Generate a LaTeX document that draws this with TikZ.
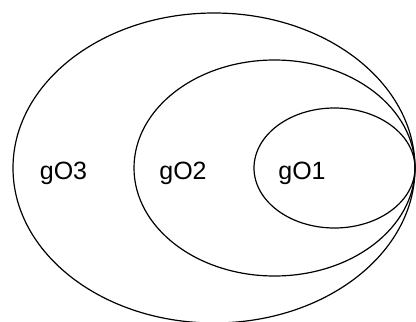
\documentclass[tikz,border=0pt]{standalone}
\usepackage{fontspec}
\setmainfont{Liberation Sans}
\usepackage{tikz}
\tikzset{set/.style={draw=black,line width=1.2pt},
         setlabel/.style={font=\fontsize{25}{29}\selectfont,inner sep=0pt}}

\begin{document}
\begin{tikzpicture}[x=1pt,y=-1pt]
\useasboundingbox (0,0) rectangle (416,322);
% nested sets
\draw[set] (214,168) ellipse (201 and 155);
\draw[set] (274.5,168) ellipse (140.5 and 108);
\draw[set] (334.5,168) ellipse (80.5 and 60);
% labels
\node[setlabel] (gO3) at (63.5,173){gO3};
\node[setlabel] (gO2) at (183,173){gO2};
\node[setlabel] (gO1) at (302,173){gO1};
\end{tikzpicture}
\end{document}
